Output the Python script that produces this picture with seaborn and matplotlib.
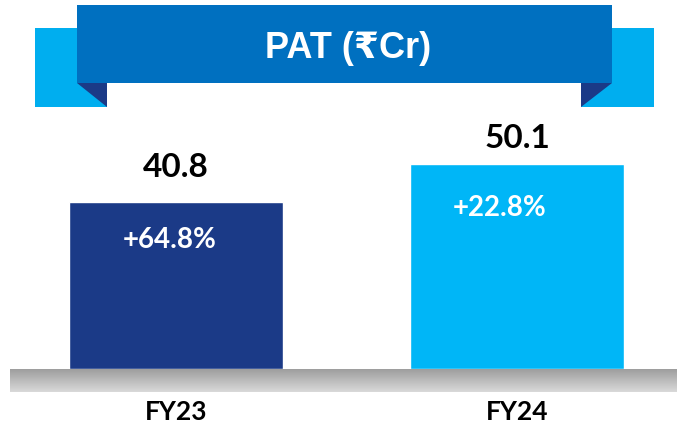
import numpy as np
import pandas as pd
import matplotlib
matplotlib.use("Agg")
import matplotlib.pyplot as plt
from matplotlib.patches import Rectangle, Polygon
import seaborn as sns

# data
years = ["FY23", "FY24"]
pat = [40.8, 50.1]
growth = ["+64.8%", "+22.8%"]
bar_colors = ["#1B3A87", "#00B6F7"]

df = pd.DataFrame({"year": years, "pat": pat})

sns.set_style("white")
plt.rcParams["font.family"] = ["Lato", "DejaVu Sans"]

W, H = 677, 428
base_y = 369           # pixel row of the bar baseline (from top)
px_per_unit = 4.1      # vertical scale of the bars
slot = 341             # pixel distance between bar centres
x0 = 176               # pixel centre of first bar

fig = plt.figure(figsize=(W / 100, H / 100), dpi=100)

# bar axes
ax = fig.add_axes([0, (H - base_y) / H, 1, base_y / H])
sns.barplot(data=df, x="year", y="pat", hue="year", palette=bar_colors,
            width=214 / slot, saturation=1, errorbar=None, legend=False, ax=ax)
ax.set_xlim(-x0 / slot, (W - x0) / slot)
ax.set_ylim(0, base_y / px_per_unit)
ax.axis("off")

# value labels above bars (pixel gaps tuned per bar)
value_gap = [20, 11]
for i, v in enumerate(pat):
    ax.annotate(f"{v}", xy=(i, v), xytext=(0, value_gap[i]), textcoords="offset pixels",
                ha="center", va="bottom", fontsize=24, fontweight="bold", color="black")

# growth labels inside bars
growth_off = [(-6, -38), (-17, -44)]
for i, g in enumerate(growth):
    ax.annotate(g, xy=(i, pat[i]), xytext=growth_off[i], textcoords="offset pixels",
                ha="center", va="center", fontsize=20, fontweight="bold", color="white")

# category labels under the base
for i, y in enumerate(years):
    ax.annotate(y, xy=(i, 0), xytext=(0, -43), textcoords="offset pixels",
                ha="center", va="center", fontsize=19, fontweight="bold", color="black",
                annotation_clip=False)

# overlay axes in pixel coords for the banner and base strip
ov = fig.add_axes([0, 0, 1, 1], zorder=-1)
ov.set_xlim(0, W)
ov.set_ylim(H, 0)
ov.axis("off")

# gray base strip with vertical gradient
grad = np.linspace(0.62, 0.85, 50).reshape(-1, 1)
ov.imshow(grad, extent=(10, W, 392, base_y), cmap="gray", vmin=0, vmax=1,
          aspect="auto", interpolation="bilinear")
ov.set_xlim(0, W)
ov.set_ylim(H, 0)

# ribbon banner
ov.add_patch(Rectangle((35, 28), 72, 79, color="#00AEEF", lw=0))
ov.add_patch(Rectangle((581, 28), 73, 79, color="#00AEEF", lw=0))
ov.add_patch(Polygon([(77, 83), (107, 83), (107, 107)], color="#1B3A87", lw=0))
ov.add_patch(Polygon([(581, 83), (612, 83), (581, 107)], color="#1B3A87", lw=0))
ov.add_patch(Rectangle((77, 5), 535, 78, color="#0070C0", lw=0))
ov.text(348, 58, "PAT (₹Cr)", color="white", fontsize=26, fontweight="bold",
        ha="center", va="baseline", family=["Liberation Sans", "DejaVu Sans"])

fig.savefig("out.png", dpi=100)
